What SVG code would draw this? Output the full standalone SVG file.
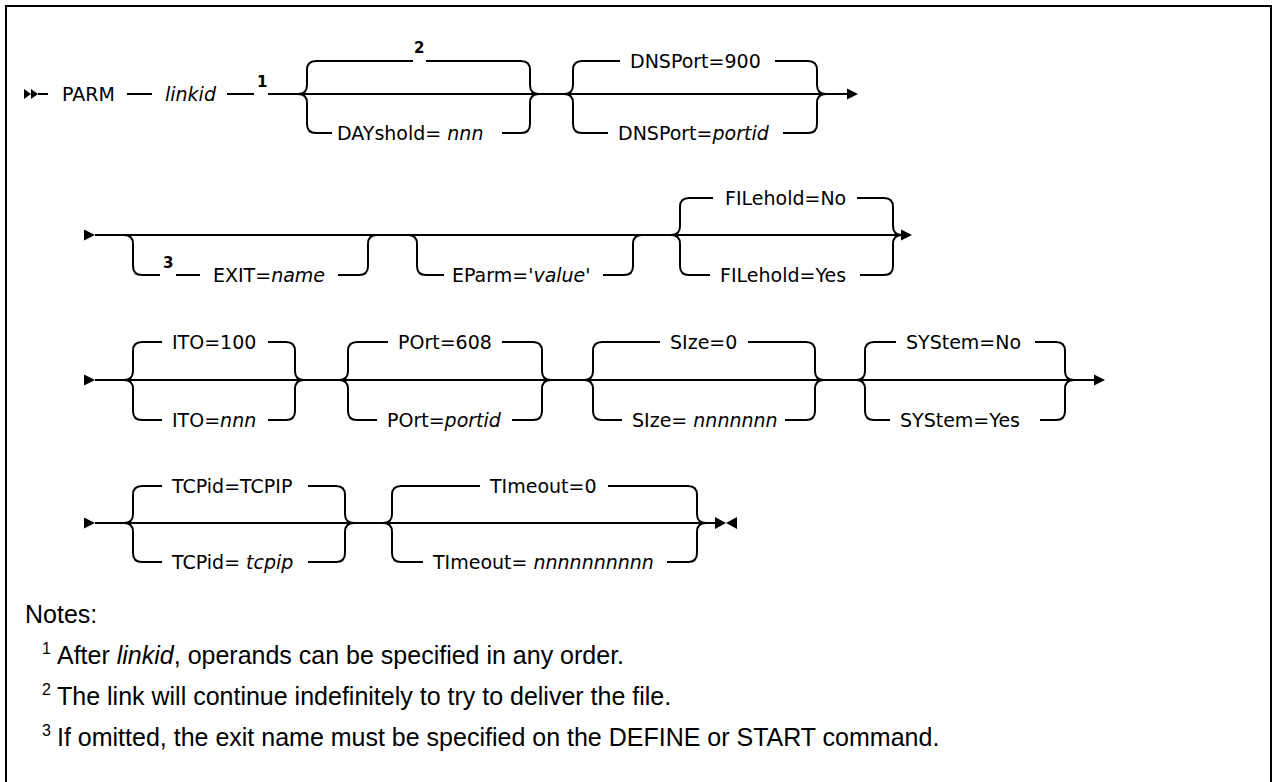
<svg xmlns="http://www.w3.org/2000/svg" xmlns:xlink="http://www.w3.org/1999/xlink" width="1273" height="782" viewBox="0 0 1273 782">
<style>
.rail{fill:none;stroke:#000;stroke-width:2}
.t{font-family:"DejaVu Sans","Liberation Sans",sans-serif;font-size:19px;fill:#000}
.i{font-style:italic}
.sup{font-family:"DejaVu Sans","Liberation Sans",sans-serif;font-size:15px;font-weight:bold;fill:#000}
.note{font-family:"Liberation Sans",Arial,sans-serif;font-size:25px;fill:#000}
.nsup{font-family:"Liberation Sans",Arial,sans-serif;font-size:16px;fill:#000}
.hd{fill:#000}
</style>
<defs>
<path id="arr" d="M0,-5.5 L11,0 L0,5.5 Z"/>
</defs>
<rect width="1273" height="782" fill="#fff"/>
<path d="M6,782 V6 H1271 V782" fill="none" stroke="#000" stroke-width="2"/>

<g id="connectors">
<path class="rail" d="M38,94 H48 M127,94 H152 M227,94 H254 M268,94 H848"/>
<path class="rail" d="M95,235 H902"/>
<path class="rail" d="M95,380 H1095"/>
<path class="rail" d="M95,523 H716"/>
<use href="#arr" x="847" y="94" class="hd"/>
<use href="#arr" x="901" y="235" class="hd"/>
<use href="#arr" x="1094" y="380" class="hd"/>
<use href="#arr" x="84" y="235" class="hd"/>
<use href="#arr" x="84" y="380" class="hd"/>
<use href="#arr" x="84" y="523" class="hd"/>
</g>

<g id="start">
<path class="hd" d="M24,89 L31,94 L24,99 Z M31,89 L38,94 L31,99 Z"/>
</g>
<g id="parm"><text class="t" x="62" y="101">PARM</text></g>
<g id="linkid"><text class="t i" x="165" y="101">linkid</text><text class="sup" x="257" y="87">1</text></g>

<g id="dayshold">
<path class="rail" d="M298,94 Q307,94 307,85 V70 Q307,61 316,61 H413 M426,61 H521 Q530,61 530,70 V85 Q530,94 539,94"/>
<path class="rail" d="M298,94 Q307,94 307,103 V124 Q307,133 316,133 H332 M502,133 H521 Q530,133 530,124 V103 Q530,94 539,94"/>
<text class="sup" x="414" y="53">2</text>
<text class="t" x="337" y="140">DAYshold= <tspan class="i">nnn</tspan></text>
</g>

<g id="dnsport">
<path class="rail" d="M564,94 Q573,94 573,85 V70 Q573,61 582,61 H620 M775,61 H808 Q817,61 817,70 V85 Q817,94 826,94"/>
<path class="rail" d="M564,94 Q573,94 573,103 V124 Q573,133 582,133 H608 M783,133 H808 Q817,133 817,124 V103 Q817,94 826,94"/>
<text class="t" x="630" y="68">DNSPort=900</text>
<text class="t" x="618" y="140">DNSPort=<tspan class="i">portid</tspan></text>
</g>

<g id="exit">
<path class="rail" d="M124,235 Q133,235 133,244 V266 Q133,275 142,275 H160 M176,275 H200 M338,275 H359 Q368,275 368,266 V244 Q368,235 377,235"/>
<text class="sup" x="163" y="268">3</text>
<text class="t" x="213" y="282">EXIT=<tspan class="i">name</tspan></text>
</g>

<g id="eparm">
<path class="rail" d="M408,235 Q417,235 417,244 V266 Q417,275 426,275 H444 M603,275 H624 Q633,275 633,266 V244 Q633,235 642,235"/>
<text class="t" x="452" y="282">EParm='<tspan class="i">value</tspan>'</text>
</g>

<g id="filehold">
<path class="rail" d="M671,235 Q680,235 680,226 V207 Q680,198 689,198 H713 M857,198 H884 Q893,198 893,207 V226 Q893,235 902,235"/>
<path class="rail" d="M671,235 Q680,235 680,244 V266 Q680,275 689,275 H710 M860,275 H884 Q893,275 893,266 V244 Q893,235 902,235"/>
<text class="t" x="725" y="205">FILehold=No</text>
<text class="t" x="720" y="282">FILehold=Yes</text>
</g>

<g id="ito">
<path class="rail" d="M124,380 Q133,380 133,371 V351 Q133,342 142,342 H162 M268,342 H286 Q295,342 295,351 V371 Q295,380 304,380"/>
<path class="rail" d="M124,380 Q133,380 133,389 V411 Q133,420 142,420 H162 M268,420 H286 Q295,420 295,411 V389 Q295,380 304,380"/>
<text class="t" x="172" y="349">ITO=100</text>
<text class="t" x="172" y="427">ITO=<tspan class="i">nnn</tspan></text>
</g>

<g id="port">
<path class="rail" d="M339,380 Q348,380 348,371 V351 Q348,342 357,342 H388 M502,342 H533 Q542,342 542,351 V371 Q542,380 551,380"/>
<path class="rail" d="M339,380 Q348,380 348,389 V411 Q348,420 357,420 H377 M512,420 H533 Q542,420 542,411 V389 Q542,380 551,380"/>
<text class="t" x="398" y="349">POrt=608</text>
<text class="t" x="387" y="427">POrt=<tspan class="i">portid</tspan></text>
</g>

<g id="size">
<path class="rail" d="M584,380 Q593,380 593,371 V351 Q593,342 602,342 H660 M748,342 H806 Q815,342 815,351 V371 Q815,380 824,380"/>
<path class="rail" d="M584,380 Q593,380 593,389 V411 Q593,420 602,420 H622 M785,420 H806 Q815,420 815,411 V389 Q815,380 824,380"/>
<text class="t" x="670" y="349">SIze=0</text>
<text class="t" x="632" y="427">SIze= <tspan class="i">nnnnnnn</tspan></text>
</g>

<g id="system">
<path class="rail" d="M856,380 Q865,380 865,371 V351 Q865,342 874,342 H896 M1035,342 H1056 Q1065,342 1065,351 V371 Q1065,380 1074,380"/>
<path class="rail" d="M856,380 Q865,380 865,389 V411 Q865,420 874,420 H890 M1040,420 H1056 Q1065,420 1065,411 V389 Q1065,380 1074,380"/>
<text class="t" x="906" y="349">SYStem=No</text>
<text class="t" x="900" y="427">SYStem=Yes</text>
</g>

<g id="tcpid">
<path class="rail" d="M124,523 Q133,523 133,514 V495 Q133,486 142,486 H162 M308,486 H336 Q345,486 345,495 V514 Q345,523 354,523"/>
<path class="rail" d="M124,523 Q133,523 133,532 V553 Q133,562 142,562 H162 M308,562 H336 Q345,562 345,553 V532 Q345,523 354,523"/>
<text class="t" x="172" y="493">TCPid=TCPIP</text>
<text class="t" x="172" y="569">TCPid= <tspan class="i">tcpip</tspan></text>
</g>

<g id="timeout">
<path class="rail" d="M383,523 Q392,523 392,514 V495 Q392,486 401,486 H480 M608,486 H688 Q697,486 697,495 V514 Q697,523 706,523"/>
<path class="rail" d="M383,523 Q392,523 392,532 V553 Q392,562 401,562 H423 M667,562 H688 Q697,562 697,553 V532 Q697,523 706,523"/>
<text class="t" x="490" y="493">TImeout=0</text>
<text class="t" x="433" y="569">TImeout= <tspan class="i">nnnnnnnnnn</tspan></text>
</g>

<g id="end">
<path class="hd" d="M715,517 L726,523 L715,529 Z M737,517 L726,523 L737,529 Z"/>
</g>

<g id="notes">
<text class="note" x="25" y="623">Notes:</text>
<text class="nsup" x="42" y="654">1</text>
<text class="note" x="57" y="664">After <tspan font-style="italic">linkid</tspan>, operands can be specified in any order.</text>
<text class="nsup" x="42" y="695">2</text>
<text class="note" x="57" y="705">The link will continue indefinitely to try to deliver the file.</text>
<text class="nsup" x="42" y="736">3</text>
<text class="note" x="57" y="746">If omitted, the exit name must be specified on the DEFINE or START command.</text>
</g>
</svg>
